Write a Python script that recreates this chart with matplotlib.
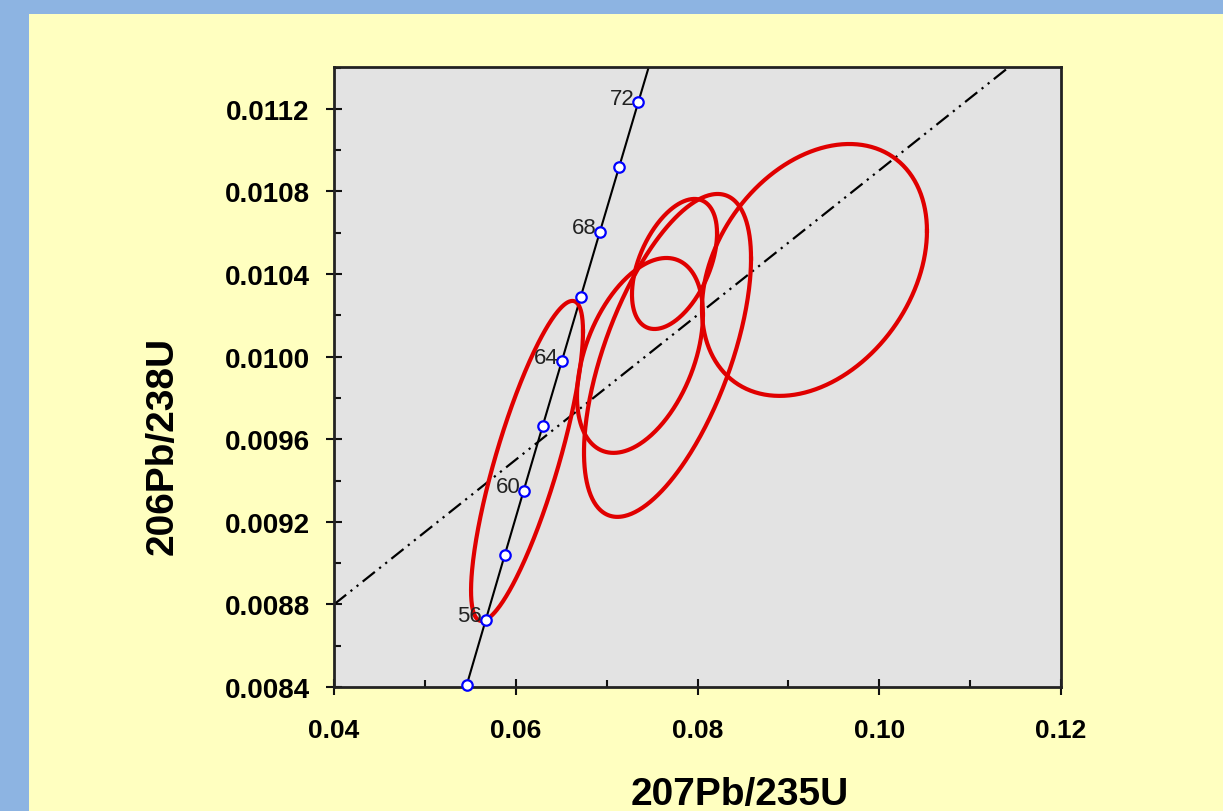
import numpy as np
import matplotlib
matplotlib.use("Agg")
import matplotlib.pyplot as plt
from matplotlib.patches import Rectangle
from matplotlib.ticker import MultipleLocator, FormatStrFormatter

plt.rcParams['font.family'] = ['Liberation Sans', 'DejaVu Sans']
plt.rcParams['font.weight'] = 'bold'

# concordia points (Ma)
ages = [54, 56, 58, 60, 62, 64, 66, 68, 70, 72]
conc_x = [0.05462, 0.05670, 0.05878, 0.06087, 0.06296, 0.06506, 0.06716, 0.06926, 0.07137, 0.07348]
conc_y = [0.008412, 0.008725, 0.009038, 0.009351, 0.009664, 0.009977, 0.010291, 0.010605, 0.010918, 0.011232]
# concordia curve running past the axes (52 and 74 Ma ends)
curve_x = [0.05255] + conc_x + [0.07560]
curve_y = [0.008099] + conc_y + [0.011546]
labelled = [56, 60, 64, 68, 72]

# regression (dash-dot-dot) line
line_x = [0.0400, 0.1142]
line_y = [0.00880, 0.01140]

# error ellipses: centre, half-width, half-height, correlation
ell_x = [0.06124, 0.07670, 0.07367, 0.07747, 0.09287]
ell_y = [0.009495, 0.010006, 0.010006, 0.010449, 0.010420]
ell_sx = [0.00616, 0.00919, 0.00693, 0.00468, 0.01238]
ell_sy = [0.000775, 0.000782, 0.000472, 0.000315, 0.000610]
ell_rho = [0.81, 0.60, 0.42, 0.47, 0.31]

fig = plt.figure(figsize=(12.23, 8.12), dpi=100)
fig.patch.set_facecolor('#8DB4E2')
panel = Rectangle((29/1223, 0), 1, 797/812, transform=fig.transFigure,
                  facecolor='#FFFFC0', edgecolor='none', zorder=-10)
fig.add_artist(panel)

ax = fig.add_axes([334/1223, 124/812, 727/1223, 620/812])
ax.set_facecolor('#E3E3E3')
ax.set_zorder(1)

ax.plot(curve_x, curve_y, color='black', linewidth=1.5, zorder=2)

l, = ax.plot(line_x, line_y, color='black', linewidth=1.6, zorder=2)
l.set_dashes([7, 2.5, 1, 2.5, 1, 2.5])

t = np.linspace(0, 2*np.pi, 400)
for i in range(len(ell_x)):
  ex = ell_x[i] + ell_sx[i]*np.cos(t)
  ey = ell_y[i] + ell_sy[i]*(ell_rho[i]*np.cos(t) + np.sqrt(1 - ell_rho[i]**2)*np.sin(t))
  ax.plot(ex, ey, color='#E00000', linewidth=3, zorder=3)

ax.plot(conc_x, conc_y, linestyle='none', marker='o', markersize=7.5,
        markerfacecolor='white', markeredgecolor='#0000FF', markeredgewidth=1.6,
        zorder=4, clip_on=False)

for a, x, y in zip(ages, conc_x, conc_y):
  if a in labelled:
    ax.annotate(str(a), (x, y), xytext=(-2.5, 3), textcoords='offset points',
                ha='right', va='center', fontsize=16, fontweight='normal',
                color='#222222', zorder=5)

ax.set_xlim(0.04, 0.12)
ax.set_ylim(0.0084, 0.011403)
ax.xaxis.set_major_locator(MultipleLocator(0.02))
ax.xaxis.set_minor_locator(MultipleLocator(0.01))
ax.yaxis.set_major_locator(MultipleLocator(0.0004))
ax.yaxis.set_minor_locator(MultipleLocator(0.0002))
ax.xaxis.set_major_formatter(FormatStrFormatter('%.2f'))
ax.yaxis.set_major_formatter(FormatStrFormatter('%.4f'))

ax.tick_params(which='major', direction='inout', length=11, width=1.5, color='#111111')
ax.tick_params(which='minor', direction='in', length=5, width=1.5, color='#111111')
ax.tick_params(axis='x', which='major', labelsize=19, pad=17)
ax.tick_params(axis='y', which='major', labelsize=20, pad=12)
for s in ax.spines.values():
  s.set_linewidth(2)
  s.set_color('#222222')

fig.text(740/1223, 7/812, '207Pb/235U', fontsize=28, ha='center', va='baseline')
fig.text(173/1223, 366/812, '206Pb/238U', fontsize=28, rotation=90,
         rotation_mode='anchor', ha='center', va='baseline')

plt.savefig("out.png", dpi=100, facecolor=fig.get_facecolor())
